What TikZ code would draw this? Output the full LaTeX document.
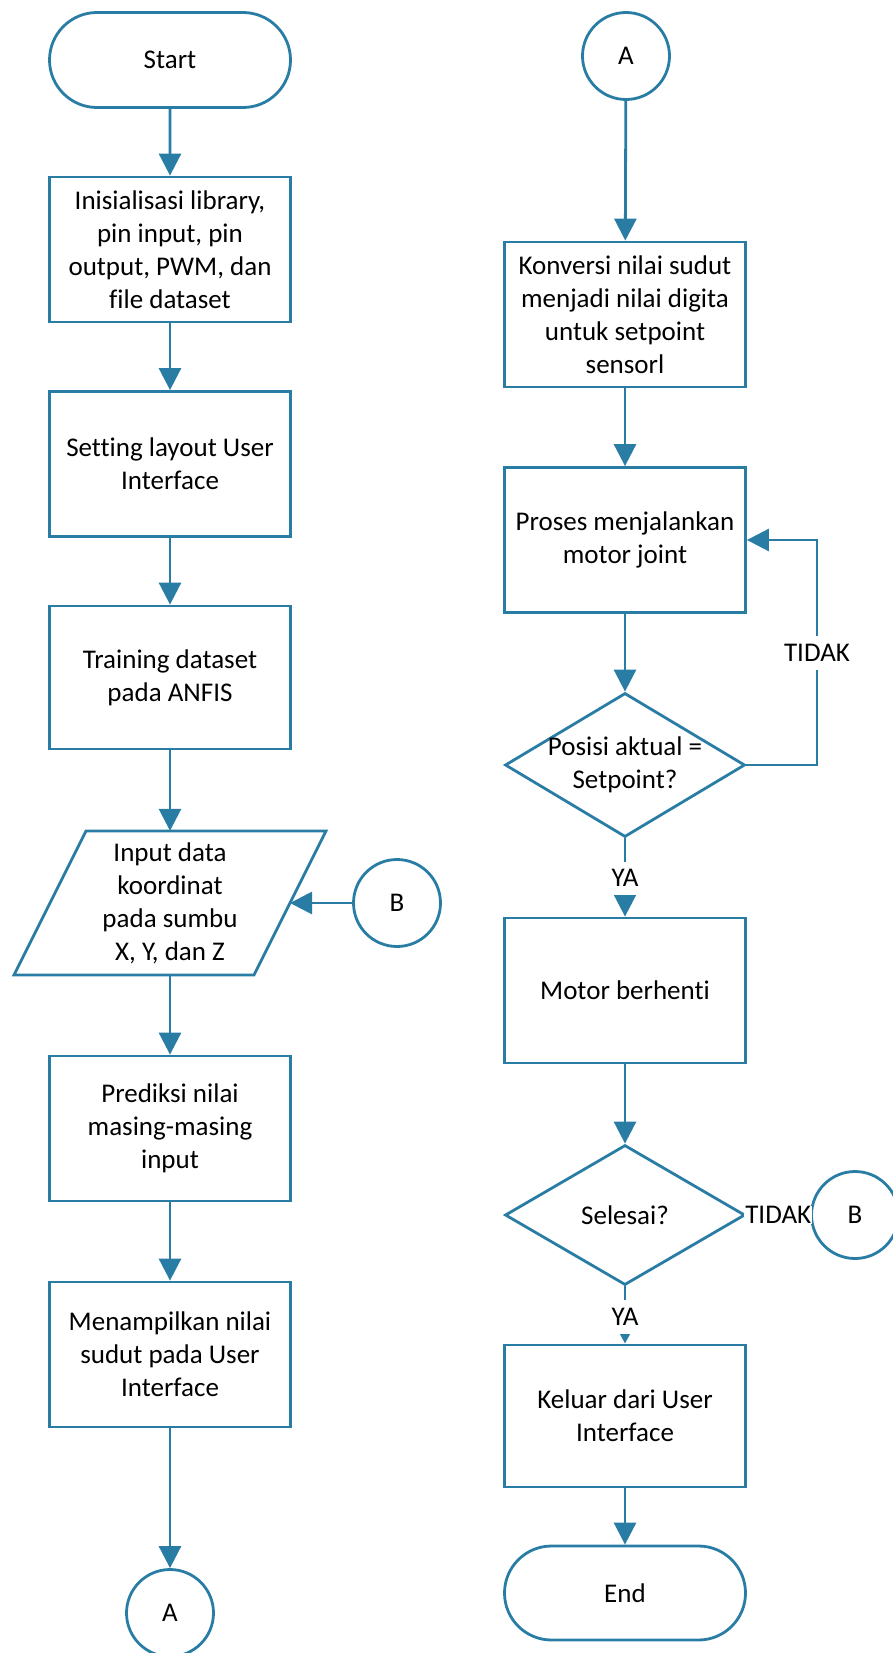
\documentclass[tikz,border=0pt]{standalone}
\usepackage{fontspec}
\setmainfont[Ligatures={NoCommon}]{Carlito}
\usetikzlibrary{shapes.geometric,shapes.misc,arrows.meta}
\definecolor{fc}{RGB}{41,125,165}
\begin{document}
\begin{tikzpicture}[x=1pt,y=-1pt,
  every node/.style={font=\fontsize{27}{33}\selectfont, align=center, inner sep=0pt, text=black},
  box/.style={draw=fc, line width=2.8pt, rectangle, minimum width=241pt, minimum height=145pt},
  term/.style={draw=fc, line width=2.8pt, rounded rectangle, minimum width=241pt, minimum height=95pt},
  conn/.style={draw=fc, line width=2.8pt, circle, minimum size=87pt},
  dec/.style={draw=fc, line width=2.8pt, diamond, minimum width=240pt, minimum height=144pt},
  arr/.style={draw=fc, line width=2.8pt, -{Triangle[length=22pt,width=22pt]}},
  sarr/.style={draw=fc, line width=2.8pt, -{Triangle[length=13pt,width=13pt]}},
  lbl/.style={fill=white, inner xsep=1pt, text=black}
]
\useasboundingbox (0,0) rectangle (892,1653);
\fill[white] (0,0) rectangle (892,1653);

% left column
\node[term] (start) at (170,60) {Start};
\node[box] (init) at (170,249.5) {Inisialisasi library,\\pin input, pin\\output, PWM, dan\\file dataset};
\node[box] (setting) at (170,464) {Setting layout User\\Interface};
\node[box, minimum height=143pt] (train) at (170,677.5) {Training dataset\\pada ANFIS};
\node[minimum width=160pt, minimum height=144pt] (inp) at (170,903) {Input data\\koordinat\\pada sumbu\\X, Y, dan Z};
\draw[fc, line width=2.8pt, line join=miter] (86,831) -- (326,831) -- (254,975) -- (14,975) -- cycle;
\coordinate (pin) at (290,903);
\node[conn] (b1) at (397,903) {B};
\node[box] (pred) at (170,1128.5) {Prediksi nilai\\masing-masing\\input};
\node[box] (tampil) at (170,1354.5) {Menampilkan nilai\\sudut pada User\\Interface};
\node[conn] (a1) at (170,1613) {A};

\draw[arr] (start) -- (init);
\draw[arr] (init) -- (setting);
\draw[arr] (setting) -- (train);
\draw[arr] (train.south) -- (inp.north);
\draw[arr] (b1) -- (pin);
\draw[arr] (inp.south) -- (pred.north);
\draw[arr] (pred) -- (tampil);
\draw[arr] (tampil) -- (a1);

% right column
\node[conn] (a2) at (626,56) {A};
\node[box] (konv) at (625,314.5) {Konversi nilai sudut\\menjadi nilai digita\\untuk setpoint\\sensorl};
\node[box] (proses) at (625,540) {Proses menjalankan\\motor joint};
\node[dec] (d1) at (625,765) {};
\node (d1t) at (d1) {Posisi aktual =\\Setpoint?};
\node[box] (motor) at (625,990.5) {Motor berhenti};
\node[dec, minimum height=140pt] (d2) at (625,1215) {};
\node (d2t) at (d2) {Selesai?};
\node[conn] (b2) at (855,1215) {B};
\node[box, minimum height=142pt] (keluar) at (625,1416) {Keluar dari User\\Interface};
\node[term, minimum height=94pt] (end) at (625,1593) {End};

\draw[arr] (a2) -- (konv);
\draw[arr] (konv) -- (proses);
\draw[arr] (proses) -- (d1);
\coordinate (lp) at (817,765);
\draw[arr] (d1.east) -- (lp) -- node[lbl, minimum height=34pt] {TIDAK} (lp|-proses.east) -- (proses.east);
\draw[arr] (d1.south) -- node[lbl, pos=0.51, minimum height=33pt] {YA} (motor.north);
\draw[arr] (motor) -- (d2);
\draw[fc, line width=2.8pt] (d2.east) -- node[lbl] {TIDAK} (b2.west);
\draw[sarr] (d2.south) -- node[lbl, pos=0.53, minimum height=34pt] {YA} (keluar.north);
\draw[arr] (keluar) -- (end);
\end{tikzpicture}
\end{document}
